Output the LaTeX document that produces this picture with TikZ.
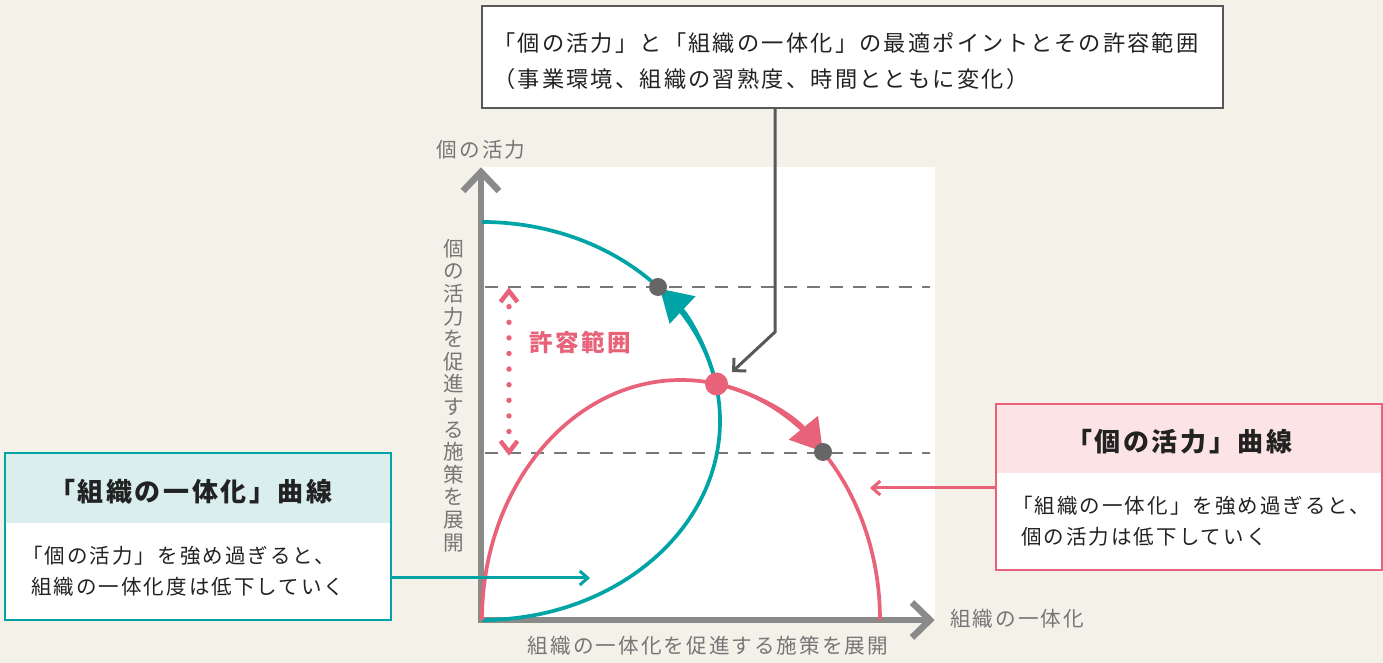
\documentclass[tikz,border=0pt]{standalone}
\usepackage{fontspec}
\setmainfont{Noto Sans CJK JP}[LetterSpace=10.0]
\usetikzlibrary{arrows.meta}
\definecolor{bgc}{RGB}{244,241,233}
\definecolor{tealc}{RGB}{0,164,166}
\definecolor{pinkc}{RGB}{232,99,122}
\definecolor{tealhd}{RGB}{217,238,237}
\definecolor{pinkhd}{RGB}{252,228,230}
\definecolor{axisc}{RGB}{138,138,138}
\definecolor{lblc}{RGB}{118,118,118}
\definecolor{callc}{RGB}{88,88,88}
\definecolor{dotc}{RGB}{102,102,102}
\definecolor{dashc}{RGB}{120,120,120}
\definecolor{txtc}{RGB}{34,34,34}
\begin{document}
\begin{tikzpicture}[x=1pt,y=1pt,
  lbl/.style={text=lblc, font=\fontsize{20.6}{24}\selectfont, inner sep=0pt},
  vlbl/.style={text=lblc, font=\fontsize{20.6}{22.6}\selectfont, inner sep=0pt, align=center},
  bodytxt/.style={text=txtc, font=\fontsize{20.5}{24}\selectfont, inner sep=0pt, anchor=west},
  hdtxt/.style={text=txtc, font=\bfseries\fontsize{26}{30}\selectfont, inner sep=0pt, anchor=west},
  toptxt/.style={text=txtc, font=\fontsize{22.2}{26}\selectfont, inner sep=0pt, anchor=west},
  curve/.style={line width=3.7pt},
  bigtip/.style={-{Triangle[length=31pt,width=37pt]}},
  barb/.style={-{Straight Barb[length=8pt,width=14pt]}, line width=3pt},
  axisline/.style={axisc, line width=6.5pt},
  guide/.style={dashc, line width=2pt, dash pattern=on 13pt off 10pt},
  gdot/.style={circle, fill=dotc, minimum size=18pt, inner sep=0pt},
  pdot/.style={circle, fill=pinkc, minimum size=23pt, inner sep=0pt},
  boxframe/.style={anchor=south west, inner sep=0pt, line width=1.8pt}
]
\useasboundingbox (0,0) rectangle (1383,663);
\fill[bgc] (0,0) rectangle (1383,663);

% plot area
\fill[white] (482,43) rectangle (935,496);

% axes
\draw[axisline, line join=miter] (481,492) -- (481,43) -- (930,43);
\draw[axisline, line join=miter] (463,472) -- (481,491) -- (499,472);
\draw[axisline, line join=miter] (912,60.5) -- (930,43) -- (912,25.5);

% guide lines
\draw[guide] (485,376) -- (930,376);
\draw[guide] (485,210) -- (930,210);

% curves
\draw[tealc, curve] (482,441) arc[start angle=90, end angle=-90, x radius=238pt, y radius=199pt];
\draw[pinkc, curve] (482,43) arc[start angle=180, end angle=0, x radius=199pt, y radius=240pt];
\draw[tealc, curve, bigtip] (715.9,279.0) arc[start angle=10.7, end angle=41.6, x radius=238pt, y radius=199pt];
\draw[pinkc, curve, bigtip] (716.9,279.1) arc[start angle=79.6, end angle=44.5, x radius=199pt, y radius=240pt];

% dots
\node[gdot] (gtop) at (658,376) {};
\node[gdot] (glow) at (823,211) {};
\node[pdot] (opt) at (716.5,279) {};

% tolerance range
\draw[pinkc, line width=4.5pt, line join=miter] (500.5,361) -- (509,372) -- (517.5,361);
\draw[pinkc, line width=4.5pt, line join=miter] (500.5,222) -- (509,211) -- (517.5,222);
\foreach \k in {0,...,8} {
  \fill[pinkc] (509,356.3-15.6*\k) circle (2.7pt);
}
\node[text=pinkc, font=\bfseries\fontsize{23.5}{28}\selectfont, inner sep=0pt] (range) at (580,321) {許容範囲};

% axis labels
\node[lbl] (ylabel) at (481,513) {個の活力};
\node[lbl] (xlabel) at (1017,44) {組織の一体化};
\node[lbl] (xdesc) at (708,17) {組織の一体化を促進する施策を展開};
\node[vlbl] (ydesc) at (454,267.5) {個\\の\\活\\力\\を\\促\\進\\す\\る\\施\\策\\を\\展\\開};

% top callout box
\fill[white] (481,554) rectangle (1222,656);
\node[boxframe, draw=callc, minimum width=741pt, minimum height=102pt] (tbox) at (481,554) {};
\node[toptxt] (t1) at (493,620) {「個の活力」と「組織の一体化」の最適ポイントとその許容範囲};
\node[toptxt] (t2) at (493,584) {（事業環境、組織の習熟度、時間とともに変化）};
\coordinate (cbend) at (775,331);
\coordinate (ctip) at (732,291);
\draw[callc, line width=3pt, -{Straight Barb[length=9pt,width=18pt]}] (tbox.south -| cbend) -- (cbend) -- (ctip);

% left box
\fill[white] (4,42) rectangle (390,209);
\fill[tealhd] (4,140) rectangle (390,209);
\node[boxframe, draw=tealc, minimum width=386pt, minimum height=167pt] (lbox) at (4,42) {};
\node[hdtxt] (lhead) at (49,171) {「組織の一体化」曲線};
\node[bodytxt] (lb1) at (22,107) {「個の活力」を強め過ぎると、};
\node[bodytxt] (lb2) at (31,76) {組織の一体化度は低下していく};
\coordinate (ltip) at (590,85);
\draw[tealc, barb] (lbox.east |- ltip) -- (ltip);

% right box
\fill[white] (995,92) rectangle (1381,258);
\fill[pinkhd] (995,190) rectangle (1381,258);
\node[boxframe, draw=pinkc, minimum width=386pt, minimum height=166pt] (rbox) at (995,92) {};
\node[hdtxt] (rhead) at (1066,221) {「個の活力」曲線};
\node[bodytxt] (rb1) at (1012,157) {「組織の一体化」を強め過ぎると、};
\node[bodytxt] (rb2) at (1021,126) {個の活力は低下していく};
\coordinate (rtip) at (870,175);
\draw[pinkc, barb] (rbox.west |- rtip) -- (rtip);
\end{tikzpicture}
\end{document}
